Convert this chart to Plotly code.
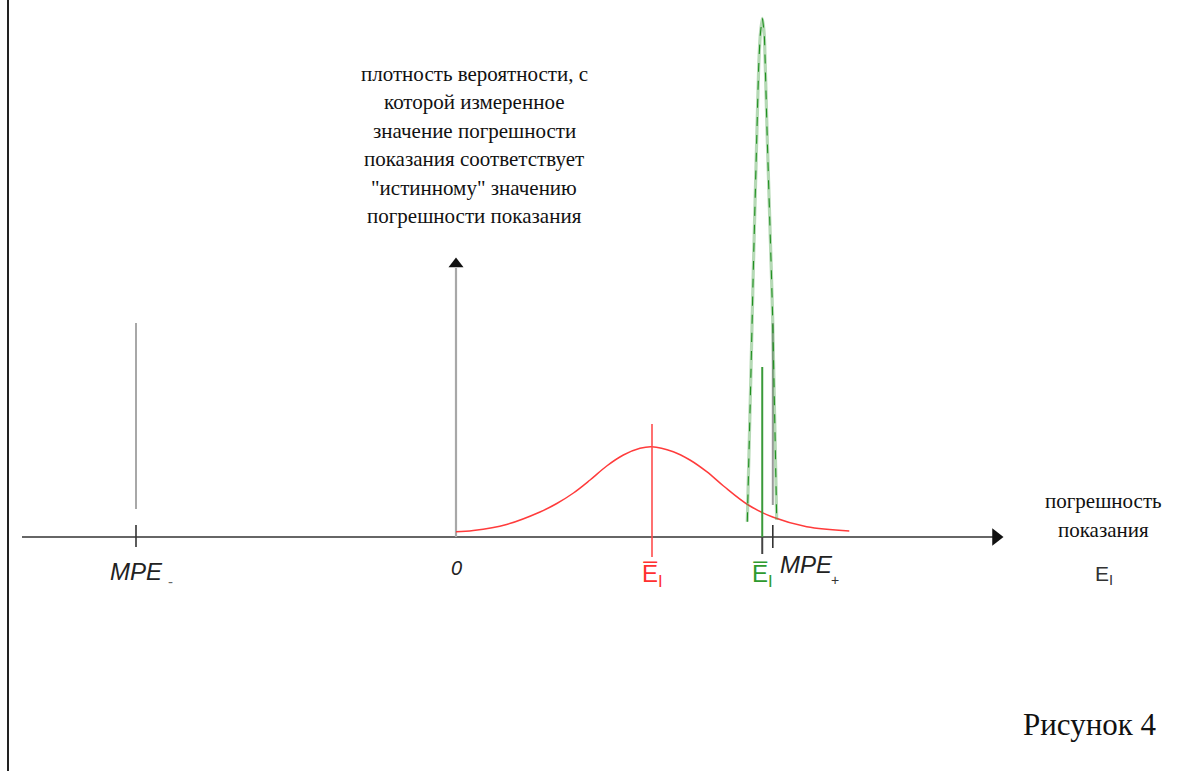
import plotly.graph_objects as go

# ---------------- data (x in units of MPE, y in density units) ----------------
MPE_MINUS = -1.0
MPE_PLUS = 0.99
ZERO = 0.0
MEAN_RED = 0.6125
MEAN_GREEN = 0.957

red_x = [0, 0.054, 0.158, 0.2625, 0.315, 0.367, 0.419, 0.471, 0.523, 0.575, 0.6115,
         0.679, 0.731, 0.7835, 0.836, 0.9135, 0.9915, 1.096, 1.229]
red_y = [0.053, 0.065, 0.125, 0.25, 0.335, 0.44, 0.57, 0.71, 0.82, 0.887, 0.903,
         0.853, 0.77, 0.653, 0.51, 0.32, 0.197, 0.103, 0.06]

green_x = [0.9103, 0.9219, 0.9291, 0.9397, 0.9459, 0.9509, 0.9572, 0.9634, 0.9666,
           0.9728, 0.9853, 0.9897, 1.0022]
green_y = [0.153, 1.67, 2.67, 3.97, 4.70, 5.02, 5.187, 5.02, 4.70, 3.97, 2.67, 2.17, 0.17]

y_axis_lines = ["плотность вероятности, с", "которой измеренное", "значение погрешности",
                "показания соответствует", "\"истинному\" значению", "погрешности показания"]
x_axis_lines = ["погрешность", "показания"]
caption = "Рисунок 4"

# ---------------- layout mapping ----------------
W, H = 1204, 771
X0PX, SX = 456, 320.0   # pixel of x=0, pixels per unit
Y0PX, SY = 537, 100.0   # pixel of y=0, pixels per unit


def dx(px):
    return (px - X0PX) / SX


def dy(py):
    return (Y0PX - py) / SY


fig = go.Figure()


def seg(x, y0, y1, color, width):
    fig.add_trace(go.Scatter(x=[x, x], y=[y0, y1], mode="lines",
                             line=dict(color=color, width=width), hoverinfo="skip"))


# horizontal axis
fig.add_trace(go.Scatter(x=[dx(22), dx(993)], y=[0, 0], mode="lines",
                         line=dict(color="#333333", width=1.6), hoverinfo="skip"))
fig.add_trace(go.Scatter(x=[dx(996)], y=[0], mode="markers",
                         marker=dict(symbol="triangle-right", size=15, color="#111111"),
                         hoverinfo="skip"))
# vertical axis
seg(ZERO, 0, dy(268), "#a8a8a8", 2.2)
fig.add_trace(go.Scatter(x=[ZERO], y=[dy(264)], mode="markers",
                         marker=dict(symbol="triangle-up", size=13, color="#111111"),
                         hoverinfo="skip"))

# MPE lines and ticks
seg(MPE_MINUS, dy(509), dy(323), "#a8a8a8", 2)
seg(MPE_PLUS, dy(505), dy(323), "#9a9a9a", 2)
seg(MPE_MINUS, dy(547), dy(525), "#333333", 1.6)
seg(MPE_PLUS, dy(548), dy(525), "#333333", 1.6)

# red curve
fig.add_trace(go.Scatter(x=red_x, y=red_y, mode="lines",
                         line=dict(color="#ff3b3b", width=1.5, shape="spline", smoothing=1.0),
                         hoverinfo="skip"))
seg(MEAN_RED, dy(557), dy(424), "#ff4d4d", 1.6)

# green curve
fig.add_trace(go.Scatter(x=green_x, y=green_y, mode="lines",
                         line=dict(color="rgba(70,160,70,0.4)", width=3.2, shape="spline",
                                   smoothing=0.5), hoverinfo="skip"))
fig.add_trace(go.Scatter(x=green_x, y=green_y, mode="lines",
                         line=dict(color="#1f8f1f", width=1.1, shape="spline", smoothing=0.5,
                                   dash="dash"),
                         hoverinfo="skip"))
seg(MEAN_GREEN, dy(537), dy(367), "#3a9a3a", 2)
seg(MEAN_GREEN, dy(554), dy(537), "#444444", 2)

ann = []


def txt(x, y, text, size, color="#111111", family="Liberation Serif", xref="x", yref="y",
        xanchor="center", yanchor="middle"):
    ann.append(dict(x=x, y=y, xref=xref, yref=yref, text=text, showarrow=False,
                    font=dict(family=family, size=size, color=color),
                    xanchor=xanchor, yanchor=yanchor))


for i, line in enumerate(y_axis_lines):
    txt(dx(474), dy(74 + i * 28.4), line, 21)
for i, line in enumerate(x_axis_lines):
    txt(dx(1103), dy(501 + i * 29), line, 21)

sans = "Liberation Sans"
txt(MPE_MINUS, dy(571), "<i>MPE</i>", 24, "#222222", sans)
txt(dx(170), dy(581), "-", 15, "#666666", sans)
txt(ZERO, dy(568), "<i>0</i>", 20, "#222222", sans)
txt(MEAN_RED, dy(575), "E\u0305<sub>I</sub>", 24, "#ff3030", sans)
txt(MEAN_GREEN, dy(575), "E\u0305<sub>I</sub>", 24, "#2e9a2e", sans)
txt(dx(806), dy(564), "<i>MPE</i>", 24, "#222222", sans)
txt(dx(835), dy(580), "+", 14, "#333333", sans)
txt(dx(1104), dy(575), "E<sub>I</sub>", 21, "#333333", sans)
txt(dx(1090), dy(724), caption, 31, "#111111")

fig.update_layout(
    width=W, height=H, margin=dict(l=0, r=0, t=0, b=0),
    paper_bgcolor="white", plot_bgcolor="white", showlegend=False,
    xaxis=dict(range=[dx(0), dx(W)], visible=False, fixedrange=True),
    yaxis=dict(range=[dy(H), dy(0)], visible=False, fixedrange=True),
    annotations=ann,
    shapes=[dict(type="line", xref="paper", yref="paper", x0=8 / W, x1=8 / W, y0=0, y1=1,
                 line=dict(color="#222222", width=2))],
)

fig.write_html("out.html", config={"displayModeBar": False},
               post_script="document.body.style.margin='0';document.body.style.overflow='hidden';")
